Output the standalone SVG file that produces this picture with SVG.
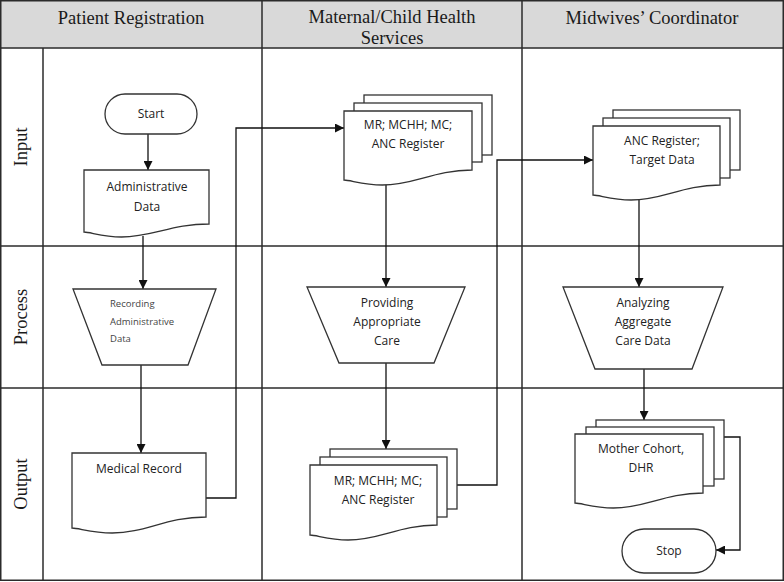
<svg xmlns="http://www.w3.org/2000/svg" width="784" height="582" viewBox="0 0 784 582">
<style>
.grid{stroke:#2b2b2b;stroke-width:1.5;fill:none}
.hdr{font-family:"Liberation Serif",serif;font-size:18.5px;fill:#1a1a1a;text-anchor:middle}
.shape{fill:#fff;stroke:#333;stroke-width:1.3}
.t{font-family:"Open Sans","Liberation Sans",sans-serif;font-size:12px;fill:#222;text-anchor:middle}
.ts{font-family:"Open Sans","Liberation Sans",sans-serif;font-size:9.5px;fill:#444}
.c{fill:none;stroke:#111;stroke-width:1.3;marker-end:url(#arr)}
</style>
<defs>
<marker id="arr" viewBox="0 0 10 10" refX="10" refY="5" markerWidth="9" markerHeight="9" markerUnits="userSpaceOnUse" orient="auto">
<path d="M0,0 L10,5 L0,10 z" fill="#111"/>
</marker>
</defs>
<rect width="784" height="582" fill="#fff"/>
<g id="grid">
<rect x="0.75" y="0.75" width="782.5" height="47.5" fill="#d9d9d9" stroke="none"/>
<rect class="grid" x="0.75" y="0.75" width="782.5" height="579.5"/>
<line class="grid" x1="0" y1="48" x2="784" y2="48"/>
<line class="grid" x1="43" y1="48" x2="43" y2="580"/>
<line class="grid" x1="262" y1="0" x2="262" y2="580"/>
<line class="grid" x1="522" y1="0" x2="522" y2="580"/>
<line class="grid" x1="0" y1="246" x2="784" y2="246"/>
<line class="grid" x1="0" y1="388" x2="784" y2="388"/>
<text class="hdr" x="131" y="24">Patient Registration</text>
<text class="hdr" x="392" y="23">Maternal/Child Health</text>
<text class="hdr" x="392" y="44">Services</text>
<text class="hdr" x="652" y="24">Midwives’ Coordinator</text>
<text class="hdr" transform="translate(27,147) rotate(-90)">Input</text>
<text class="hdr" transform="translate(27,317) rotate(-90)">Process</text>
<text class="hdr" transform="translate(27,484) rotate(-90)">Output</text>
</g>
<g id="connectors">
<path class="c" d="M148,134 V170"/>
<path class="c" d="M143,236 V289"/>
<path class="c" d="M141,365 V453"/>
<path class="c" d="M206,498 H236 V128 H344"/>
<path class="c" d="M386,184 V287"/>
<path class="c" d="M386,363 V449"/>
<path class="c" d="M457,485 H497 V160 H593"/>
<path class="c" d="M639,199 V287"/>
<path class="c" d="M644,369 V420"/>
<path class="c" d="M724,437 H740 V550 H716"/>
</g>
<g id="start">
<rect class="shape" x="105" y="94" width="92" height="40" rx="20"/>
<text class="t" x="151" y="118">Start</text>
</g>
<g id="admin-data">
<path class="shape" d="M84,170 H209 V224 C171.5,224 152.75,237 121.5,237 C102.75,237 90.25,232 84,232 Z"/>
<text class="t" x="147" y="191">Administrative</text>
<text class="t" x="147" y="211">Data</text>
</g>
<g id="recording">
<path class="shape" d="M73,289 H216 L188,365 H102 Z"/>
<text class="ts" x="110" y="307">Recording</text>
<text class="ts" x="110" y="325">Administrative</text>
<text class="ts" x="110" y="342">Data</text>
</g>
<g id="medical-record">
<path class="shape" d="M72,453 H206 V517 C165.8,517 145.7,533 112.2,533 C92.1,533 78.7,528 72,528 Z"/>
<text class="t" x="139" y="473">Medical Record</text>
</g>
<g id="mch-input">
<rect class="shape" x="364" y="95" width="128" height="60"/>
<rect class="shape" x="354" y="103" width="128" height="59"/>
<path class="shape" d="M344,111 H472 V170 C433.6,170 414.4,185 382.4,185 C363.2,185 350.4,180 344,180 Z"/>
<text class="t" x="408" y="129">MR; MCHH; MC;</text>
<text class="t" x="408" y="148">ANC Register</text>
</g>
<g id="providing">
<path class="shape" d="M307,287 H465 L434,363 H339 Z"/>
<text class="t" x="387" y="307">Providing</text>
<text class="t" x="387" y="326">Appropriate</text>
<text class="t" x="387" y="345">Care</text>
</g>
<g id="mch-output">
<rect class="shape" x="330" y="449" width="127" height="60"/>
<rect class="shape" x="320" y="457" width="127" height="60"/>
<path class="shape" d="M310,465 H437 V525 C398.9,525 379.9,540 348.1,540 C329.1,540 316.4,535 310,535 Z"/>
<text class="t" x="378" y="485">MR; MCHH; MC;</text>
<text class="t" x="378" y="504">ANC Register</text>
</g>
<g id="anc-input">
<rect class="shape" x="613" y="110" width="127" height="60"/>
<rect class="shape" x="603" y="118" width="127" height="60"/>
<path class="shape" d="M593,126 H720 V185 C681.9,185 662.9,200 631.1,200 C612.1,200 599.4,195 593,195 Z"/>
<text class="t" x="662" y="145">ANC Register;</text>
<text class="t" x="662" y="164">Target Data</text>
</g>
<g id="analyzing">
<path class="shape" d="M563,287 H723 L692,369 H595 Z"/>
<text class="t" x="643" y="307">Analyzing</text>
<text class="t" x="643" y="326">Aggregate</text>
<text class="t" x="643" y="345">Care Data</text>
</g>
<g id="mother-cohort">
<rect class="shape" x="596" y="420" width="128" height="59"/>
<rect class="shape" x="586" y="427" width="128" height="59"/>
<path class="shape" d="M575,434 H703 V493 C664.6,493 645.4,508 613.4,508 C594.2,508 581.4,503 575,503 Z"/>
<text class="t" x="641" y="453">Mother Cohort,</text>
<text class="t" x="641" y="472">DHR</text>
</g>
<g id="stop">
<rect class="shape" x="622" y="529" width="94" height="44" rx="22"/>
<text class="t" x="669" y="555">Stop</text>
</g>
</svg>
